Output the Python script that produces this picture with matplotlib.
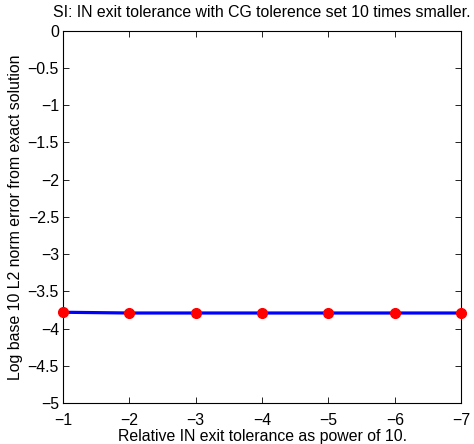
import matplotlib
matplotlib.use("Agg")
import matplotlib.pyplot as plt

plt.rcParams['font.family'] = ['Liberation Sans', 'DejaVu Sans']
plt.rcParams['font.size'] = 11.4

# exit tolerance exponents and resulting log10 L2 errors
tol_power = [-1, -2, -3, -4, -5, -6, -7]
log_err = [-3.78, -3.79, -3.79, -3.79, -3.79, -3.79, -3.79]

fig = plt.figure(figsize=(4.74, 4.44), dpi=100)
ax = fig.add_axes([0.133, 0.092, 0.840, 0.839])

ax.plot(tol_power, log_err, color='#0000ff', lw=2.3, zorder=2)
ax.plot(tol_power, log_err, 'o', color='#ff0000', ms=7, mec='#ff0000',
        zorder=3, clip_on=False)

ax.set_xlim(-1, -7)
ax.set_ylim(-5, 0)
ax.set_xticks(tol_power)
ax.set_yticks([0, -0.5, -1, -1.5, -2, -2.5, -3, -3.5, -4, -4.5, -5])
ax.set_yticklabels(['0', '\u22120.5', '\u22121', '\u22121.5', '\u22122', '\u22122.5',
                    '\u22123', '\u22123.5', '\u22124', '\u22124.5', '\u22125'])
ax.tick_params(direction='in', top=True, right=True, length=4, width=0.6,
               pad=3)
ax.tick_params(axis='x', pad=7)
for s in ax.spines.values():
    s.set_linewidth(0.8)

ax.set_title('SI: IN exit tolerance with CG tolerence set 10 times smaller.',
             fontsize=11.4, pad=10)
ax.set_xlabel('Relative IN exit tolerance as power of 10.', labelpad=1)
ax.set_ylabel('Log base 10 L2 norm error from exact solution', labelpad=3)

fig.savefig('out.png', dpi=100)
